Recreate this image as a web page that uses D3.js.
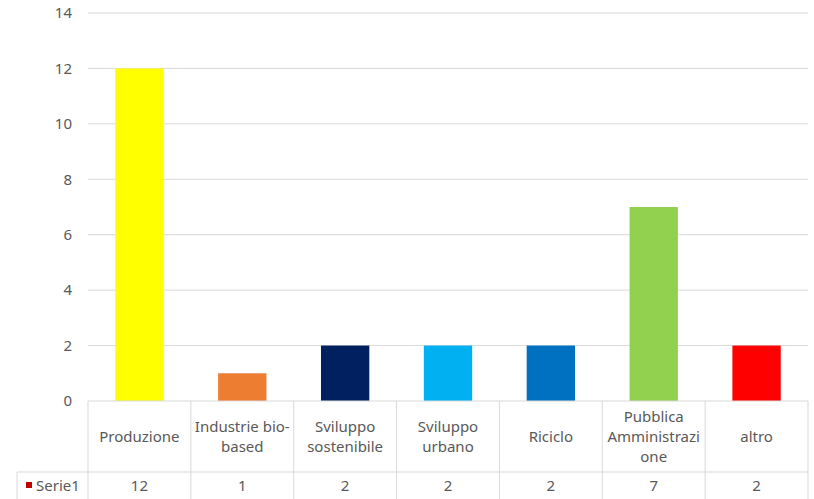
<!DOCTYPE html>
<html><head><meta charset="utf-8">
<script src="https://cdn.jsdelivr.net/npm/d3@7"></script>
<style>body{margin:0;background:#fff}svg{display:block}text{font-family:"Noto Sans",sans-serif;fill:#595959}</style>
</head><body><svg id="c" width="814" height="499"></svg>
<script>
const categories = [["Produzione"],["Industrie bio-","based"],["Sviluppo","sostenibile"],["Sviluppo","urbano"],["Riciclo"],["Pubblica","Amministrazi","one"],["altro"]];
const values = [12,1,2,2,2,7,2];
const barColors = ["#FFFF00","#ED7D31","#002060","#00B0F0","#0070C0","#92D050","#FF0000"];
const yTicks = [0,2,4,6,8,10,12,14];
const seriesName = "Serie1";

(function(){
const svg = d3.select("#c");
const pLeft = 88, pRight = 808, pTop = 13, pBottom = 401;
const fs = "15px";
const x = d3.scaleBand().domain(d3.range(categories.length)).range([pLeft, pRight]).paddingInner(0.53).paddingOuter(0.265);
const xc = d3.scaleBand().domain(d3.range(categories.length)).range([pLeft, pRight]);
const y = d3.scaleLinear().domain([0,14]).range([pBottom, pTop]);

svg.append("g").selectAll("line").data(yTicks.filter(d=>d>0)).join("line")
  .attr("x1", pLeft).attr("x2", pRight).attr("y1", d=>y(d)).attr("y2", d=>y(d))
  .attr("stroke", "#d9d9d9").attr("stroke-width", 1);
const yAxis = d3.axisLeft(y).tickValues(yTicks).tickSize(0).tickPadding(16);
const ga = svg.append("g").attr("transform", `translate(${pLeft},0)`).call(yAxis);
ga.select(".domain").remove();
ga.selectAll("text").style("font-family","Noto Sans").style("font-size",fs).attr("fill","#595959");

svg.append("g").selectAll("rect").data(values).join("rect")
  .attr("x", (d,i)=>x(i)).attr("width", x.bandwidth())
  .attr("y", d=>y(d)).attr("height", d=>y(0)-y(d))
  .attr("fill", (d,i)=>barColors[i]);

const rowTop = pBottom, rowMid = 472, rowBot = 499, tableLeft = 17;
const tg = svg.append("g").attr("stroke", "#d9d9d9").attr("stroke-width", 1);
tg.append("line").attr("x1", pLeft).attr("x2", pRight).attr("y1", rowTop).attr("y2", rowTop);
tg.append("line").attr("x1", tableLeft).attr("x2", pRight).attr("y1", rowMid).attr("y2", rowMid);
tg.append("line").attr("x1", tableLeft).attr("x2", tableLeft).attr("y1", rowMid).attr("y2", rowBot);
tg.selectAll(".v").data(d3.range(categories.length+1)).join("line")
  .attr("x1", i=> i<categories.length ? xc(i) : pRight).attr("x2", i=> i<categories.length ? xc(i) : pRight)
  .attr("y1", rowTop).attr("y2", rowBot);

const lh = 20;
svg.append("g").selectAll("text").data(categories).join("text")
  .attr("text-anchor","middle").attr("font-size",fs)
  .attr("x", (d,i)=>xc(i)+xc.bandwidth()/2)
  .attr("y", d => (rowTop+rowMid)/2 - (d.length-1)*lh/2 + 5)
  .each(function(d){
    const t = d3.select(this);
    d.forEach((s,k)=>t.append("tspan").attr("x", t.attr("x")).attr("dy", k===0?0:lh).text(s));
  });
svg.append("g").selectAll("text").data(values).join("text")
  .attr("text-anchor","middle").attr("font-size",fs)
  .attr("x", (d,i)=>xc(i)+xc.bandwidth()/2).attr("y", 491).text(d=>d);
svg.append("rect").attr("x", 26).attr("y", 482).attr("width", 6).attr("height", 6).attr("fill", "#C00000");
svg.append("text").attr("x", 36).attr("y", 491).attr("font-size",fs).text(seriesName);
})();
</script></body></html>
